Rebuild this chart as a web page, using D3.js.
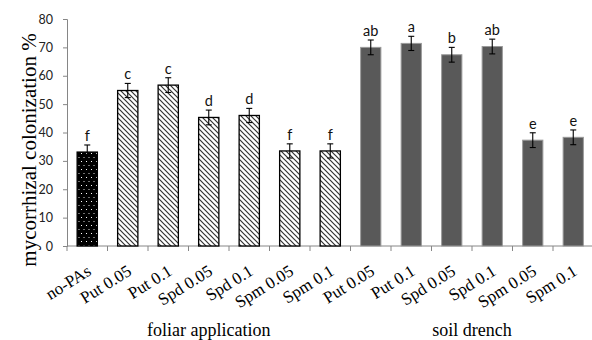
<!DOCTYPE html>
<html><head><meta charset="utf-8">
<script src="https://cdn.jsdelivr.net/npm/d3@7"></script>
<style>body{margin:0;background:#fff}svg{display:block}
.serif{font-family:"Liberation Serif","DejaVu Serif","Times New Roman",serif}
.sans{font-family:Lato,"Open Sans",sans-serif}
</style>
</head><body>
<svg id="c" width="592" height="340"></svg>
<script>
const categories = ["no-PAs","Put 0.05","Put 0.1","Spd 0.05","Spd 0.1","Spm 0.05","Spm 0.1",
                    "Put 0.05","Put 0.1","Spd 0.05","Spd 0.1","Spm 0.05","Spm 0.1"];
const groupOf = ["ctrl","foliar","foliar","foliar","foliar","foliar","foliar",
                 "soil","soil","soil","soil","soil","soil"];
const values = [33.1,54.8,56.7,45.3,46.0,33.5,33.5,70.0,71.4,67.4,70.3,37.3,38.3];
const errors = [2.5,2.5,2.6,2.6,2.5,2.5,2.5,2.6,2.5,2.6,2.6,2.6,2.6];
const letters = ["f","c","c","d","d","f","f","ab","a","b","ab","e","e"];
const yTicks = [0,10,20,30,40,50,60,70,80];
const groups = [{name:"foliar application", from:0, to:6},{name:"soil drench", from:7, to:12}];

const svg = d3.select("#c");
const defs = svg.append("defs");
const hatch = defs.append("pattern").attr("id","hatch").attr("patternUnits","userSpaceOnUse")
  .attr("width",5).attr("height",5);
hatch.append("rect").attr("width",5).attr("height",5).attr("fill","#fff");
hatch.append("path").attr("d","M-1,-1L6,6M-1,4L1,6M4,-1L6,1").attr("stroke","#333").attr("stroke-width",1.2);
const dots = defs.append("pattern").attr("id","dots").attr("patternUnits","userSpaceOnUse")
  .attr("width",5).attr("height",8);
dots.append("rect").attr("width",5).attr("height",8).attr("fill","#000");
dots.append("rect").attr("x",1).attr("y",1).attr("width",1).attr("height",1).attr("fill","#fff");
dots.append("rect").attr("x",3.5).attr("y",5).attr("width",1).attr("height",1).attr("fill","#ddd");

const x = d3.scaleBand().domain(d3.range(categories.length)).range([67,593.5])
  .paddingInner(0.5).paddingOuter(0.25);
const y = d3.scaleLinear().domain([0,80]).range([246,19]);
const step = x.step(), bw = x.bandwidth();

// y axis
const ya = svg.append("g").attr("transform","translate(67,0)")
  .call(d3.axisLeft(y).tickValues(yTicks).tickSize(4).tickPadding(10));
ya.select(".domain").attr("stroke","#868686");
ya.selectAll(".tick line").attr("stroke","#868686");
ya.selectAll(".tick text").attr("class","sans").attr("font-family",null).attr("font-size",12.5).attr("fill","#222");

// x axis line + ticks
svg.append("line").attr("x1",67).attr("x2",593.5).attr("y1",y(0)).attr("y2",y(0)).attr("stroke","#868686");
svg.append("g").selectAll("line").data(d3.range(categories.length+1)).join("line")
  .attr("x1",i=>67+i*step).attr("x2",i=>67+i*step).attr("y1",y(0)).attr("y2",y(0)+5)
  .attr("stroke","#868686");

// bars
svg.append("g").selectAll("rect").data(values).join("rect")
  .attr("x",(d,i)=>x(i)).attr("width",bw).attr("y",d=>y(d)).attr("height",d=>y(0)-y(d))
  .attr("fill",(d,i)=>groupOf[i]==="ctrl"?"url(#dots)":groupOf[i]==="foliar"?"url(#hatch)":"#595959")
  .attr("stroke",(d,i)=>groupOf[i]==="soil"?"#9a9a9a":"#000")
  .attr("stroke-width",(d,i)=>groupOf[i]==="soil"?1:1.3);

// error bars
const eb = svg.append("g").attr("stroke","#000").attr("stroke-width",1.1);
values.forEach((v,i)=>{
  const cx = x(i)+bw/2;
  eb.append("line").attr("x1",cx).attr("x2",cx).attr("y1",y(v-errors[i])).attr("y2",y(v+errors[i]));
  eb.append("line").attr("x1",cx-3).attr("x2",cx+3).attr("y1",y(v-errors[i])).attr("y2",y(v-errors[i]));
  eb.append("line").attr("x1",cx-3).attr("x2",cx+3).attr("y1",y(v+errors[i])).attr("y2",y(v+errors[i]));
});

// letters
svg.append("g").selectAll("text").data(letters).join("text").attr("class","sans")
  .attr("x",(d,i)=>x(i)+bw/2).attr("y",(d,i)=>y(values[i]+errors[i])-4)
  .attr("text-anchor","middle")
  .attr("font-size",14.5).attr("fill","#111").text(d=>d);

// x labels
svg.append("g").selectAll("text").data(categories).join("text").attr("class","serif")
  .attr("transform",(d,i)=>`translate(${x(i)+bw/2+5},274) rotate(-32)`)
  .attr("text-anchor","end")
  .attr("font-size",17).attr("fill","#000").text(d=>d);

// group labels
svg.append("g").selectAll("text").data(groups).join("text").attr("class","serif")
  .attr("x",g=>(x(g.from)-(step-bw)/2 + x(g.to)+bw+(step-bw)/2)/2).attr("y",336)
  .attr("text-anchor","middle")
  .attr("font-size",18).attr("fill","#000").text(g=>g.name);

// y title
svg.append("text").attr("class","serif").attr("transform","translate(36,150) rotate(-90)")
  .attr("text-anchor","middle")
  .attr("font-size",21).attr("fill","#000").text("mycorrhizal colonization %");
</script>
</body></html>
